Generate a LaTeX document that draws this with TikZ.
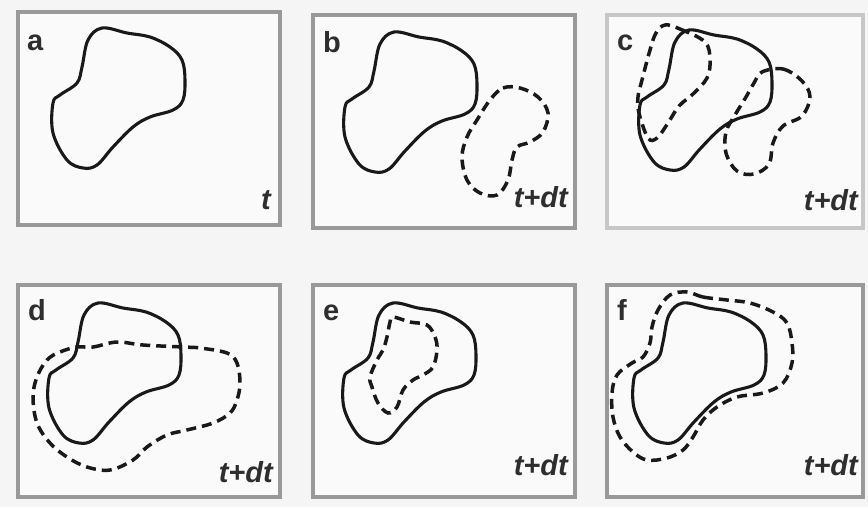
\documentclass[tikz,border=0pt]{standalone}
\usepackage{fontspec}
\setmainfont{Liberation Sans}
\begin{document}
\begin{tikzpicture}[x=1pt,y=-1pt,
  panel/.style={draw=black!40, line width=3.5pt, fill=black!2},
  lightpanel/.style={draw=black!22, line width=3.5pt, fill=black!2},
  outline/.style={line width=3.1pt, line join=round, draw=black!90},
  dashline/.style={line width=3.5pt, dash pattern=on 10pt off 6pt, draw=black!90},
  lbl/.style={font=\fontsize{29}{29}\selectfont\bfseries, inner sep=0pt, anchor=base west, text=black!82},
  tlbl/.style={font=\fontsize{29}{29}\selectfont\bfseries\itshape, inner sep=0pt, anchor=base east, text=black!82},
  blob/.pic={\draw[outline] plot[smooth cycle, tension=0.6] coordinates {
    (84,16) (109,21) (132,25) (152,35) (164,48) (167,68) (165,88) (155,98)
    (132,105) (115,115) (95,135) (79,153) (65,156) (49,148) (35,121) (35,91)
    (42,83) (59,71) (64,55) (70,28)};}
]
\useasboundingbox[fill=black!4] (0,0) rectangle (868,507);

% panel a
\begin{scope}[shift={(18,12)}]
  \draw[panel] (0,0) rectangle (262,213);
  \pic at (0,0) {blob};
  \node[lbl] (la) at (9,38) {a};
  \node[tlbl] (ta) at (253,197) {t};
\end{scope}

% panel b
\begin{scope}[shift={(313,15)}]
  \draw[panel] (0,0) rectangle (262,213);
  \pic at (-3,1) {blob};
  \draw[dashline] plot[smooth cycle, tension=0.6] coordinates {
    (177,85) (190,73) (207,73) (225,82) (235,98) (230,117) (217,127) (204,132)
    (199,145) (195,165) (184,180) (167,178) (154,165) (149,142) (154,122) (164,105)};
  \node[lbl] (lb) at (10,37) {b};
  \node[tlbl] (tb) at (255,192) {t+dt};
\end{scope}

% panel c
\begin{scope}[shift={(607,15)}]
  \draw[lightpanel] (0,0) rectangle (256,213);
  \pic at (-2,-1) {blob};
  \draw[dashline] plot[smooth cycle, tension=0.6] coordinates {
    (58,10) (73,14) (98,27) (103,45) (100,63) (86,79) (72,91) (61,108)
    (50,123) (41,123) (32,98) (31,82) (35,65) (43,35) (49,18)};
  \draw[dashline] plot[smooth cycle, tension=0.6] coordinates {
    (155,57) (176,54) (195,66) (203,82) (195,101) (176,111) (166,128) (162,149)
    (147,159) (130,156) (119,138) (119,117) (128,100) (139,82) (147,68)};
  \node[lbl] (lc) at (10,35) {c};
  \node[tlbl] (tc) at (251,195) {t+dt};
\end{scope}

% panel d
\begin{scope}[shift={(18,285)}]
  \draw[panel] (0,0) rectangle (262,212);
  \pic at (-4,2) {blob};
  \draw[dashline] plot[smooth cycle, tension=0.6] coordinates {
    (59,62) (75,62) (99,57) (125,60) (165,62) (182,63) (209,68) (219,78)
    (222,98) (219,115) (212,128) (195,138) (169,145) (149,150) (129,162) (115,175)
    (92,185) (69,182) (49,172) (32,158) (19,138) (15,112) (19,92) (29,75) (42,67)};
  \node[lbl] (ld) at (10,35) {d};
  \node[tlbl] (td) at (255,197) {t+dt};
\end{scope}

% panel e
\begin{scope}[shift={(313,285)}]
  \draw[panel] (0,0) rectangle (262,212);
  \pic at (-4,2) {blob};
  \draw[dashline] plot[smooth cycle, tension=0.6] coordinates {
    (80,32) (97,37) (114,40) (122,52) (124,65) (120,82) (110,90) (100,95)
    (90,105) (84,122) (75,128) (65,118) (59,102) (57,92) (64,75) (70,65) (74,52) (77,37)};
  \node[lbl] (le) at (10,35) {e};
  \node[tlbl] (te) at (255,190) {t+dt};
\end{scope}

% panel f
\begin{scope}[shift={(607,285)}]
  \draw[panel] (0,0) rectangle (256,212);
  \pic at (-8,2) {blob};
  \draw[dashline] plot[smooth cycle, tension=0.6] coordinates {
    (80,7) (96,12) (120,15) (143,18) (166,27) (180,38) (185,58) (185,78)
    (176,98) (156,108) (130,112) (110,122) (96,135) (86,152) (76,165) (60,173)
    (40,175) (26,167) (13,152) (6,132) (5,108) (10,90) (25,78) (36,72)
    (43,58) (45,42) (51,25) (63,10)};
  \node[lbl] (lf) at (10,35) {f};
  \node[tlbl] (tf) at (251,190) {t+dt};
\end{scope}
\end{tikzpicture}
\end{document}
